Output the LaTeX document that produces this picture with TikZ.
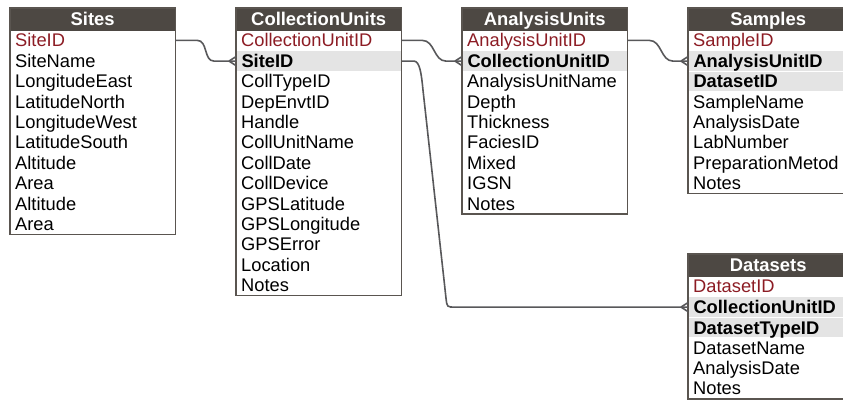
\documentclass[tikz,border=0pt]{standalone}
\usepackage{fontspec}
\setmainfont{Liberation Sans}
\usepackage{tikz}

\definecolor{headbrown}{HTML}{4D4843}
\definecolor{keyred}{HTML}{8C1C24}
\definecolor{boxline}{HTML}{5A5550}
\definecolor{connline}{HTML}{58585A}
\definecolor{fkgray}{HTML}{E4E4E4}

\tikzset{
  tblhead/.style={anchor=north west, fill=headbrown, draw=headbrown, text=white,
    font=\fontsize{18.4}{20}\selectfont\bfseries, text width=#1, align=center,
    inner xsep=5pt, inner ysep=0pt, minimum height=22pt, text height=13pt, text depth=0pt},
  tblrow/.style={anchor=north west, font=\fontsize{18.3}{20}\selectfont, text width=#1,
    align=left, inner xsep=5pt, inner ysep=0pt, minimum height=20.4pt,
    text height=13pt, text depth=0pt},
  keyrow/.style={tblrow=#1, text=keyred},
  fkrow/.style={tblrow=#1, fill=fkgray, draw=white, line width=1pt,
    font=\fontsize{18.3}{20}\selectfont\bfseries},
  tblbox/.style={draw=boxline, line width=1.6pt},
  conn/.style={draw=connline, line width=1.6pt},
  crowfoot/.pic={\draw[conn] (-7,0) -- (0,-4.5) (-7,0) -- (0,4.5);}
}

\begin{document}
\begin{tikzpicture}[x=1pt,y=-1pt]
  \useasboundingbox (0,0) rectangle (843,401);

  % Sites
  \node[tblhead=155pt] (st-h) at (10,8) {Sites};
  \node[keyrow=155pt] (st-1) at (10,30) {SiteID};
  \foreach \txt [count=\i from 2] in {SiteName,LongitudeEast,LatitudeNorth,LongitudeWest,LatitudeSouth,Altitude,Area,Altitude,Area}
    \node[tblrow=155pt] (st-\i) at (10,{30+20.4*(\i-1)}) {\txt};
  \draw[tblbox] (st-h.north west) rectangle (st-10.south east);

  % CollectionUnits
  \node[tblhead=155pt] (cu-h) at (236,8) {CollectionUnits};
  \node[keyrow=155pt] (cu-1) at (236,30) {CollectionUnitID};
  \node[fkrow=155pt] (cu-2) at (236,50.4) {SiteID};
  \foreach \txt [count=\i from 3] in {CollTypeID,DepEnvtID,Handle,CollUnitName,CollDate,CollDevice,GPSLatitude,GPSLongitude,GPSError,Location,Notes}
    \node[tblrow=155pt] (cu-\i) at (236,{30+20.4*(\i-1)}) {\txt};
  \draw[tblbox] (cu-h.north west) rectangle (cu-13.south east);

  % AnalysisUnits
  \node[tblhead=155pt] (au-h) at (462,8) {AnalysisUnits};
  \node[keyrow=155pt] (au-1) at (462,30) {AnalysisUnitID};
  \node[fkrow=155pt] (au-2) at (462,50.4) {CollectionUnitID};
  \foreach \txt [count=\i from 3] in {AnalysisUnitName,Depth,Thickness,FaciesID,Mixed,IGSN,Notes}
    \node[tblrow=155pt] (au-\i) at (462,{30+20.4*(\i-1)}) {\txt};
  \draw[tblbox] (au-h.north west) rectangle (au-9.south east);

  % Samples
  \node[tblhead=150pt] (sm-h) at (688,8) {Samples};
  \node[keyrow=150pt] (sm-1) at (688,30) {SampleID};
  \node[fkrow=150pt] (sm-2) at (688,50.4) {AnalysisUnitID};
  \node[fkrow=150pt] (sm-3) at (688,70.8) {DatasetID};
  \foreach \txt [count=\i from 4] in {SampleName,AnalysisDate,LabNumber,PreparationMetod,Notes}
    \node[tblrow=150pt] (sm-\i) at (688,{30+20.4*(\i-1)}) {\txt};
  \draw[tblbox] (sm-h.north west) rectangle (sm-8.south east);

  % Datasets
  \node[tblhead=150pt] (ds-h) at (688,254) {Datasets};
  \node[keyrow=150pt] (ds-1) at (688,276) {DatasetID};
  \node[fkrow=150pt] (ds-2) at (688,296.4) {CollectionUnitID};
  \node[fkrow=150pt] (ds-3) at (688,316.8) {DatasetTypeID};
  \foreach \txt [count=\i from 4] in {DatasetName,AnalysisDate,Notes}
    \node[tblrow=150pt] (ds-\i) at (688,{276+20.4*(\i-1)}) {\txt};
  \draw[tblbox] (ds-h.north west) rectangle (ds-6.south east);

  % links
  \draw[conn] (st-1.east) -- ++(22,0) to[out=0,in=180] ([xshift=-22pt]cu-2.west) -- (cu-2.west);
  \path (cu-2.west) pic {crowfoot};
  \draw[conn] (cu-1.east) -- ++(21,0) to[out=0,in=180] ([xshift=-16pt]au-2.west) -- (au-2.west);
  \path (au-2.west) pic {crowfoot};
  \draw[conn] (au-1.east) -- ++(22,0) to[out=0,in=180] ([xshift=-15pt]sm-2.west) -- (sm-2.west);
  \path (sm-2.west) pic {crowfoot};
  \draw[conn] (cu-2.east) -- ++(12,0) .. controls +(6,0) and +(-1.5,-15) .. ++(9,29)
    -- ++(23,208) .. controls +(1,9) and +(-8,0) .. ([xshift=-233pt]ds-2.west) -- (ds-2.west);
  \path (ds-2.west) pic {crowfoot};
\end{tikzpicture}
\end{document}
